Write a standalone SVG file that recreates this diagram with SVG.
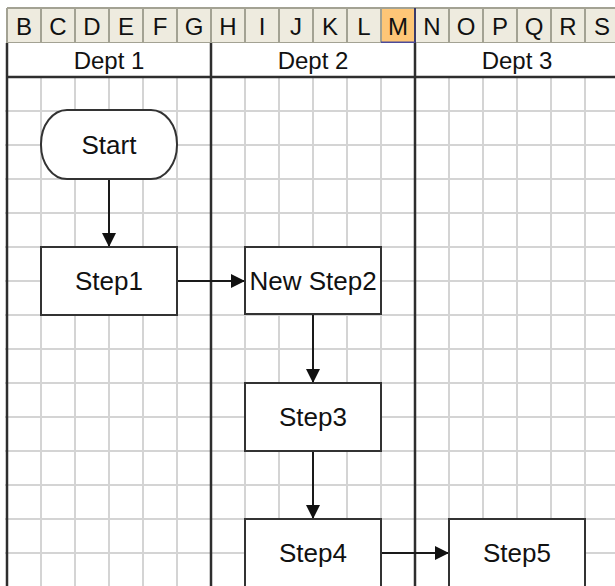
<svg xmlns="http://www.w3.org/2000/svg" width="615" height="586" viewBox="0 0 615 586">
  <style>
    .t { font-family: "Liberation Sans", Arial, sans-serif; font-size: 24px; fill: #111; text-anchor: middle; }
    .n { font-size: 26px; }
    .grid { stroke: #d4d4d4; stroke-width: 2; fill: none; }
    .hdr { stroke: #a3a293; stroke-width: 2; fill: none; }
    .lane { stroke: #2e2e2e; stroke-width: 2.5; fill: none; }
    .box { fill: #ffffff; stroke: #333333; stroke-width: 2; }
    .conn { stroke: #1a1a1a; stroke-width: 2; fill: none; marker-end: url(#arrow); }
  </style>
  <defs>
    <marker id="arrow" markerUnits="userSpaceOnUse" markerWidth="14" markerHeight="14" viewBox="0 0 14 14" refX="14" refY="7" orient="auto">
      <path d="M0,0 L14,7 L0,14 z" fill="#111"/>
    </marker>
  </defs>
  <rect x="0" y="0" width="615" height="586" fill="#ffffff"/>

  <!-- grid -->
  <g id="grid">
    <path class="grid" d="M41,77V586 M75,77V586 M109,77V586 M143,77V586 M177,77V586 M245,77V586 M279,77V586 M313,77V586 M347,77V586 M381,77V586 M449,77V586 M483,77V586 M517,77V586 M551,77V586 M585,77V586"/>
    <path class="grid" d="M5,111H615 M5,145H615 M5,179H615 M5,213H615 M5,247H615 M5,281H615 M5,315H615 M5,349H615 M5,383H615 M5,417H615 M5,451H615 M5,485H615 M5,519H615 M5,553H615"/>
  </g>

  <!-- column header -->
  <g id="header">
    <rect x="7" y="8" width="608" height="35" fill="#eeebdf"/>
    <rect x="381" y="8" width="34" height="35" fill="#fec677"/>
    <path class="hdr" d="M7,8H615 M7,43H615 M7,8V43 M41,8V43 M75,8V43 M109,8V43 M143,8V43 M177,8V43 M211,8V43 M245,8V43 M279,8V43 M313,8V43 M347,8V43 M381,8V43 M449,8V43 M483,8V43 M517,8V43 M551,8V43 M585,8V43"/>
    <path d="M415,8V43" stroke="#3a3a6a" stroke-width="2"/>
    <path d="M381,42.5H415" stroke="#4a4a9a" stroke-width="2"/>
    <text class="t" x="24" y="35">B</text>
    <text class="t" x="58" y="35">C</text>
    <text class="t" x="92" y="35">D</text>
    <text class="t" x="126" y="35">E</text>
    <text class="t" x="160" y="35">F</text>
    <text class="t" x="194" y="35">G</text>
    <text class="t" x="228" y="35">H</text>
    <text class="t" x="262" y="35">I</text>
    <text class="t" x="296" y="35">J</text>
    <text class="t" x="330" y="35">K</text>
    <text class="t" x="364" y="35">L</text>
    <text class="t" x="398" y="35">M</text>
    <text class="t" x="432" y="35">N</text>
    <text class="t" x="466" y="35">O</text>
    <text class="t" x="500" y="35">P</text>
    <text class="t" x="534" y="35">Q</text>
    <text class="t" x="568" y="35">R</text>
    <text class="t" x="602" y="35">S</text>
  </g>

  <!-- lanes -->
  <g id="lanes">
    <rect x="7" y="43" width="608" height="34" fill="#ffffff"/>
    <path class="lane" d="M7,43V586 M211,43V586 M415,43V586 M7,77H615"/>
    <text class="t" x="109" y="69">Dept 1</text>
    <text class="t" x="313" y="69">Dept 2</text>
    <text class="t" x="517" y="69">Dept 3</text>
  </g>

  <!-- connectors -->
  <g id="connectors">
    <path class="conn" d="M109,179V247"/>
    <path class="conn" d="M177,281H245"/>
    <path class="conn" d="M313,315V383"/>
    <path class="conn" d="M313,451V519"/>
    <path class="conn" d="M381,553H449"/>
  </g>

  <!-- nodes -->
  <g id="start">
    <rect class="box" x="41" y="110" width="136" height="69" rx="26" ry="34"/>
    <text class="t n" x="109" y="154">Start</text>
  </g>
  <g id="step1">
    <rect class="box" x="41" y="247" width="136" height="68"/>
    <text class="t n" x="109" y="290">Step1</text>
  </g>
  <g id="step2">
    <rect class="box" x="245" y="247" width="136" height="67"/>
    <text class="t n" x="313" y="290">New Step2</text>
  </g>
  <g id="step3">
    <rect class="box" x="245" y="383" width="136" height="68"/>
    <text class="t n" x="313" y="426">Step3</text>
  </g>
  <g id="step4">
    <rect class="box" x="245" y="519" width="136" height="68"/>
    <text class="t n" x="313" y="562">Step4</text>
  </g>
  <g id="step5">
    <rect class="box" x="449" y="519" width="136" height="68"/>
    <text class="t n" x="517" y="562">Step5</text>
  </g>
</svg>
